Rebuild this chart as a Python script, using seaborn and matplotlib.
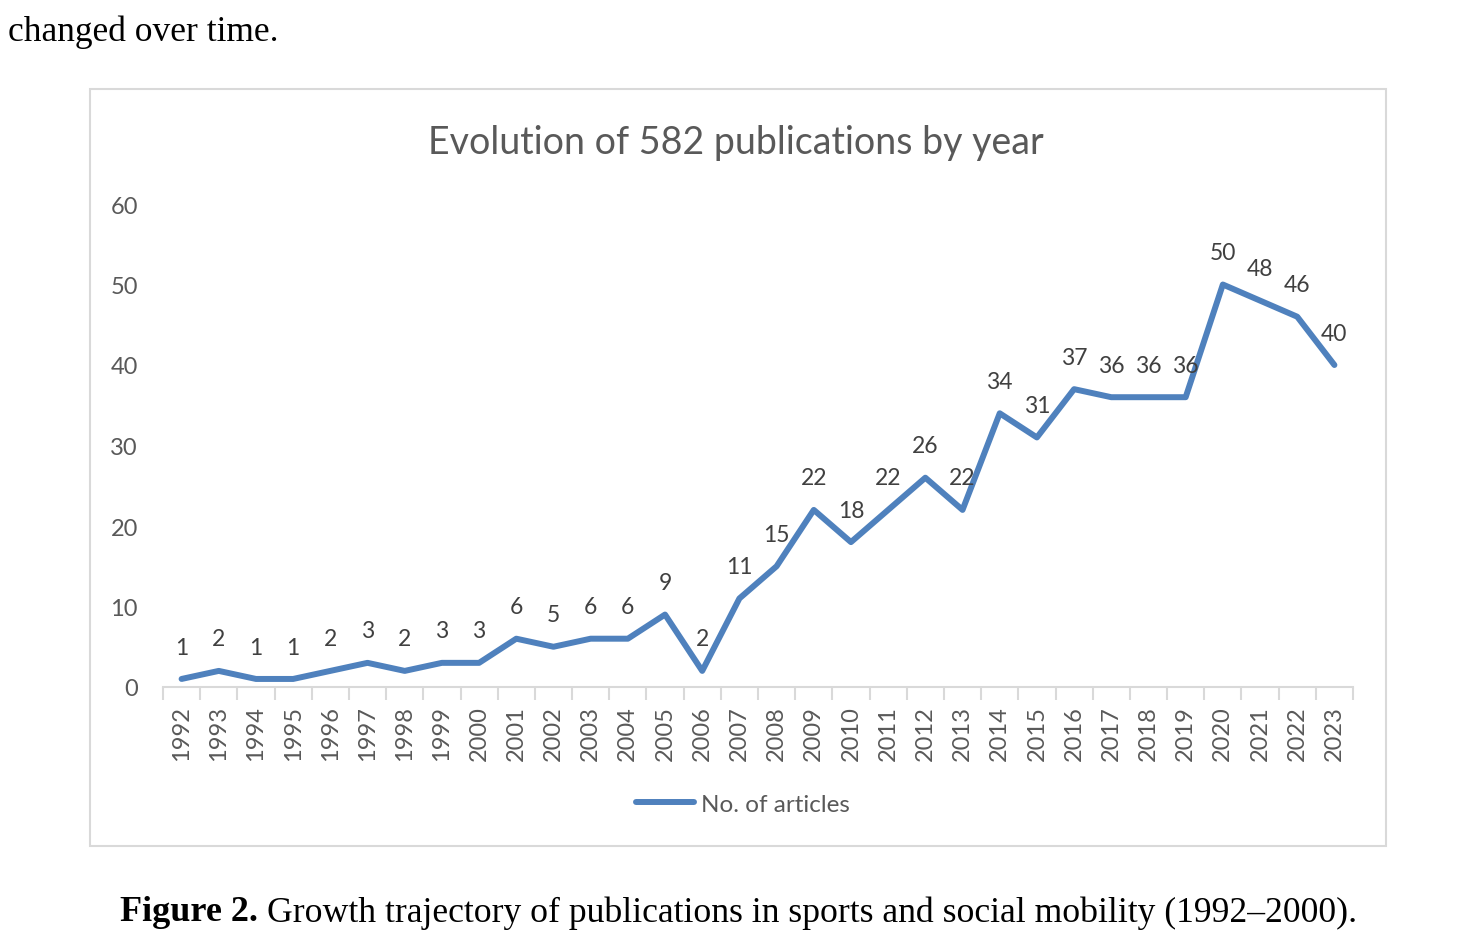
import numpy as np
import pandas as pd
import seaborn as sns
import matplotlib.pyplot as plt
from matplotlib.patches import Rectangle

# values (582 publications in total)
years = [str(y) for y in range(1992, 2024)]
articles = [1, 2, 1, 1, 2, 3, 2, 3, 3, 6, 5, 6, 6, 9, 2, 11, 15, 22, 18, 22,
            26, 22, 34, 31, 37, 36, 36, 36, 50, 48, 46, 40]
y_ticks = [0, 10, 20, 30, 40, 50, 60]

title = "Evolution of 582 publications by year"
series_name = "No. of articles"

blue = "#4f81bd"
grey_text = "#595959"
grey_line = "#d9d9d9"

sns.set_style("white")
plt.rcParams["font.family"] = ["Lato", "DejaVu Sans"]

df = pd.DataFrame({"year": years, "count": articles})

fig = plt.figure(figsize=(14.77, 9.37), dpi=100)
ax = fig.add_axes([163 / 1477, 1 - 688 / 937, (1353 - 163) / 1477, (688 - 205) / 937])

sns.lineplot(data=df, x="year", y="count", ax=ax, color=blue, linewidth=4.3,
             sort=False, label=series_name, legend=False)

# data labels above the points
for i, v in enumerate(articles):
    ax.annotate(str(v), (i, v), xytext=(0, 23), textcoords="offset points",
                ha="center", va="center", fontsize=16.5, color="#404040")

ax.set_xlim(-0.5, len(years) - 0.5)
ax.set_ylim(0, 60)
ax.set_yticks(y_ticks)
ax.set_xticks(range(len(years)))
ax.set_xticklabels(years, rotation=90)
ax.set_xticks(np.arange(-0.5, len(years), 1), minor=True)
ax.tick_params(axis="x", which="major", length=0, pad=13, labelsize=17, labelcolor=grey_text)
ax.tick_params(axis="x", which="minor", length=9, width=1.5, color=grey_line, bottom=True)
ax.tick_params(axis="y", length=0, pad=18, labelsize=17, labelcolor=grey_text)
ax.set_xlabel("")
ax.set_ylabel("")
for s in ["top", "right", "left"]:
    ax.spines[s].set_visible(False)
ax.spines["bottom"].set_color(grey_line)
ax.spines["bottom"].set_linewidth(1.5)
ax.grid(False)

h, l = ax.get_legend_handles_labels()
fig.legend(h, l, loc="center", bbox_to_anchor=(743 / 1477, 1 - 805 / 937),
           frameon=False, fontsize=17.5, labelcolor=grey_text,
           handlelength=2.4, handletextpad=0.3)

fig.text(736 / 1477, 1 - 143 / 937, title, ha="center", va="center",
         fontsize=27, color=grey_text)

# chart frame
fig.patches.append(Rectangle((90 / 1477, 1 - 847 / 937), (1386 - 90) / 1477,
                             (847 - 90) / 937, transform=fig.transFigure,
                             fill=False, edgecolor=grey_line, linewidth=1.5))

# surrounding document text
fig.text(8 / 1477, 1 - 32 / 937, "changed over time.", ha="left", va="center",
         fontsize=25.5, family="Liberation Serif", color="black")
fig.text(120 / 1477, 1 - 913 / 937, "Figure 2.", ha="left", va="center",
         fontsize=26, family="Liberation Serif", weight="bold", color="black")
fig.text(267 / 1477, 1 - 913 / 937,
         "Growth trajectory of publications in sports and social mobility (1992\u20132000).",
         ha="left", va="center", fontsize=25.7, family="Liberation Serif", color="black")

fig.savefig("out.png", dpi=100, facecolor="white")
